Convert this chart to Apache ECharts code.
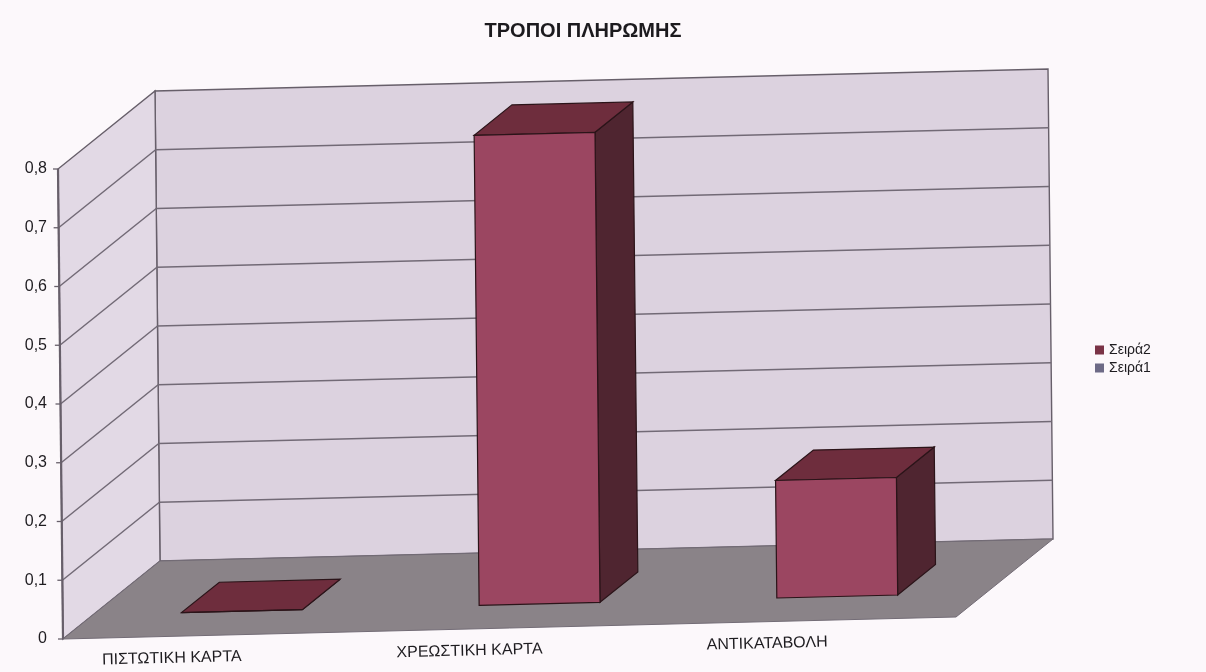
<!DOCTYPE html>
<html>
<head>
<meta charset="utf-8">
<script src="https://cdn.jsdelivr.net/npm/echarts@6/dist/echarts.min.js"></script>
<style>
  html, body { margin: 0; padding: 0; background: #fcf8fb; }
  #chart { width: 1206px; height: 672px; }
</style>
</head>
<body>
<div id="chart"></div>
<script>
// Payment methods, share per method
const categories = ['ΠΙΣΤΩΤΙΚΗ ΚΑΡΤΑ', 'ΧΡΕΩΣΤΙΚΗ ΚΑΡΤΑ', 'ΑΝΤΙΚΑΤΑΒΟΛΗ'];
const seira2 = [0, 0.8, 0.2];
const seira1 = [null, null, null];
const yTickLabels = ['0', '0,1', '0,2', '0,3', '0,4', '0,5', '0,6', '0,7', '0,8'];
const seriesNames = ['Σειρά2', 'Σειρά1'];
const chartTitle = 'ΤΡΟΠΟΙ ΠΛΗΡΩΜΗΣ';

const Y_MAX = 0.8;
const Y_STEP = 0.1;

// oblique 3D projection of the plot box
const SKEW_X = -5 / 470;   // horizontal drift per pixel of height
const SKEW_Y = -22 / 893;  // vertical drift per pixel of width
const DEPTH = [97, -78];   // screen offset from front to back wall
const BAR_HALF = 0.203;    // half bar width, in category widths
const BAR_D0 = 0.31, BAR_D1 = 0.70; // bar depth range

const FONT = '"Liberation Sans", Arial, sans-serif';

const COLORS = {
  backWall: '#dcd2df',
  sideWall: '#e2d9e5',
  floor: '#8a8388',
  grid: '#726a76',
  edge: '#675f6a',
  barFront: '#9b4661',
  barTop: '#6e2d3d',
  barSide: '#4f2530',
  barStroke: '#2b1419',
  seira1: '#6d6a86'
};

function frameBox(api) {
  const w = api.size([1, 0])[0];
  const c0 = api.coord([0, 0]);
  const X0 = c0[0] - w / 2;
  const Y0 = c0[1];
  return { X0: X0, Y0: Y0, X3: X0 + categories.length * w, w: w };
}

function projector(box) {
  return function (x, y, d) {
    const dx = x - box.X0;
    const up = box.Y0 - y;
    return [x + SKEW_X * up + d * DEPTH[0], y + SKEW_Y * dx + d * DEPTH[1]];
  };
}

function poly(points, fill, stroke, lw) {
  return {
    type: 'polygon',
    shape: { points: points },
    style: { fill: fill, stroke: stroke, lineWidth: lw || 1 }
  };
}

function line(a, b, stroke, lw) {
  return {
    type: 'line',
    shape: { x1: a[0], y1: a[1], x2: b[0], y2: b[1] },
    style: { stroke: stroke, lineWidth: lw || 1 }
  };
}

function renderFrame(params, api) {
  const box = frameBox(api);
  const P = projector(box);
  const yTop = api.coord([0, Y_MAX])[1];
  const { X0, X3, Y0 } = box;
  const children = [];
  // back wall
  children.push(poly([P(X0, Y0, 1), P(X3, Y0, 1), P(X3, yTop, 1), P(X0, yTop, 1)], COLORS.backWall, COLORS.edge, 1.4));
  // left wall
  children.push(poly([P(X0, Y0, 0), P(X0, Y0, 1), P(X0, yTop, 1), P(X0, yTop, 0)], COLORS.sideWall, COLORS.edge, 1.4));
  // gridlines on both walls
  for (let k = 1; k < yTickLabels.length - 1; k++) {
    const y = api.coord([0, k * Y_STEP])[1];
    children.push(line(P(X0, y, 1), P(X3, y, 1), COLORS.grid, 1.5));
    children.push(line(P(X0, y, 0), P(X0, y, 1), COLORS.grid, 1.5));
  }
  // floor
  children.push(poly([P(X0, Y0, 0), P(X3, Y0, 0), P(X3, Y0, 1), P(X0, Y0, 1)], COLORS.floor, '#736c76', 1));
  // front vertical axis edge and its ticks
  children.push(line(P(X0, Y0, 0), P(X0, yTop, 0), COLORS.edge, 2.2));
  for (let k = 0; k < yTickLabels.length; k++) {
    const p = P(X0, api.coord([0, k * Y_STEP])[1], 0);
    children.push(line([p[0] - 5, p[1]], p, COLORS.edge, 1.3));
  }
  return { type: 'group', children: children };
}

function renderBar(params, api) {
  const v = api.value(1);
  if (v === null || v === undefined || isNaN(v)) return null;
  const box = frameBox(api);
  const P = projector(box);
  const i = api.value(0);
  const c = api.coord([i, 0]);
  const yv = api.coord([i, v])[1];
  const xl = c[0] - BAR_HALF * box.w;
  const xr = c[0] + BAR_HALF * box.w;
  const Y0 = box.Y0;
  const s = COLORS.barStroke;
  return {
    type: 'group',
    children: [
      poly([P(xr, Y0, BAR_D0), P(xr, Y0, BAR_D1), P(xr, yv, BAR_D1), P(xr, yv, BAR_D0)], COLORS.barSide, s, 1.2),
      poly([P(xl, yv, BAR_D0), P(xr, yv, BAR_D0), P(xr, yv, BAR_D1), P(xl, yv, BAR_D1)], COLORS.barTop, s, 1.2),
      poly([P(xl, Y0, BAR_D0), P(xr, Y0, BAR_D0), P(xr, yv, BAR_D0), P(xl, yv, BAR_D0)], COLORS.barFront, s, 1.2)
    ]
  };
}

function renderCategoryLabel(params, api) {
  const box = frameBox(api);
  const P = projector(box);
  const i = api.value(0);
  const c = api.coord([i, 0]);
  const p = P(c[0], box.Y0, 0);
  return {
    type: 'text',
    x: p[0] - 40,
    y: p[1] + 23,
    rotation: Math.atan(-SKEW_Y),
    style: {
      text: categories[i],
      fill: '#1e1c20',
      font: '16px ' + FONT,
      align: 'center',
      verticalAlign: 'middle'
    }
  };
}

const chart = echarts.init(document.getElementById('chart'));
chart.setOption({
  backgroundColor: '#fcf8fb',
  animation: false,
  title: {
    text: chartTitle,
    left: 578,
    top: 16,
    textAlign: 'center',
    textStyle: { fontFamily: FONT, fontSize: 20, fontWeight: 'bold', color: '#1c1a1e' }
  },
  legend: {
    data: seriesNames,
    orient: 'vertical',
    left: 1090,
    top: 338,
    itemWidth: 9,
    itemHeight: 9,
    itemGap: 4,
    icon: 'rect',
    textStyle: { fontFamily: FONT, fontSize: 14, color: '#1e1c20' }
  },
  grid: { left: 63, top: 169, width: 893, height: 470 },
  xAxis: {
    type: 'category',
    data: categories,
    show: false
  },
  yAxis: {
    type: 'value',
    min: 0,
    max: Y_MAX,
    interval: Y_STEP,
    axisLine: { show: false },
    axisTick: { show: false },
    splitLine: { show: false },
    axisLabel: {
      margin: 16,
      fontSize: 16,
      color: '#1e1c20',
      fontFamily: FONT,
      formatter: function (val) { return yTickLabels[Math.round(val / Y_STEP)]; }
    }
  },
  series: [
    {
      name: 'frame',
      type: 'custom',
      silent: true,
      z: 1,
      renderItem: renderFrame,
      data: [[0, 0]]
    },
    {
      name: seriesNames[1],
      type: 'custom',
      z: 2,
      itemStyle: { color: COLORS.seira1 },
      renderItem: renderBar,
      data: seira1.map(function (v, i) { return [i, v]; })
    },
    {
      name: seriesNames[0],
      type: 'custom',
      z: 3,
      itemStyle: { color: '#7a3346' },
      renderItem: renderBar,
      data: seira2.map(function (v, i) { return [i, v]; })
    },
    {
      name: 'labels',
      type: 'custom',
      silent: true,
      z: 4,
      renderItem: renderCategoryLabel,
      data: categories.map(function (c, i) { return [i, 0]; })
    }
  ]
});
</script>
</body>
</html>
